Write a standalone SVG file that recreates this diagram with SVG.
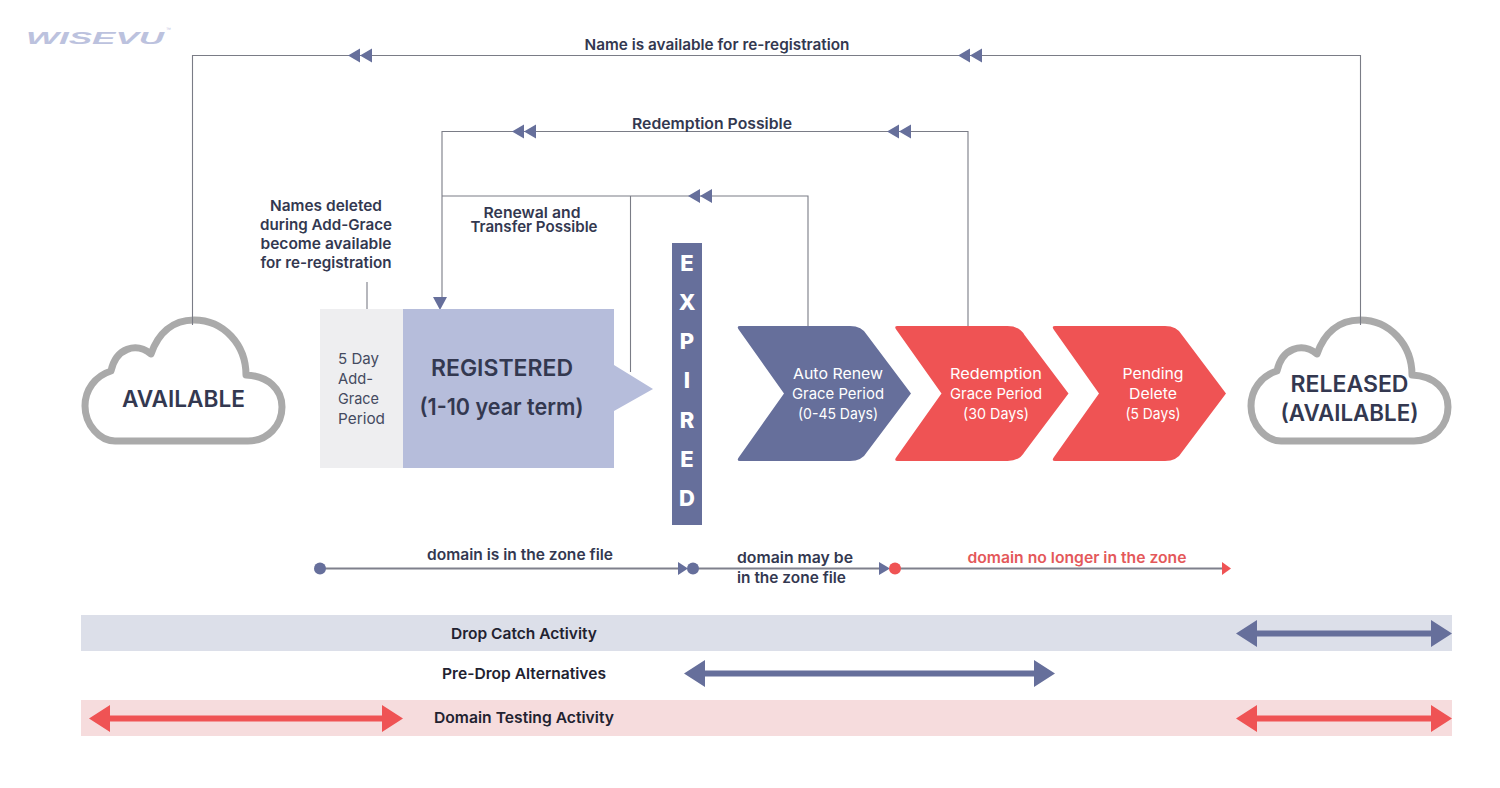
<svg xmlns="http://www.w3.org/2000/svg" xmlns:xlink="http://www.w3.org/1999/xlink" width="1500" height="788" viewBox="0 0 1500 788">
<style>
text{font-family:Inter,"Open Sans","Liberation Sans",sans-serif}
.c{text-anchor:middle}
.b{font-weight:600;font-size:15px;fill:#333850}
.k{font-weight:600;font-size:15px;fill:#222230}
.big{font-weight:600;font-size:22.5px;fill:#333850}
.w{font-weight:400;font-size:15px;fill:#fff}
.e{font-weight:800;font-size:22px;fill:#fff}
.g{font-weight:400;font-size:15px;fill:#444a60}
.l{fill:none;stroke:#7a7c86;stroke-width:1.1}
.cloud{fill:#fff;stroke:#aaa;stroke-width:7;stroke-linejoin:round}
.blue{fill:#666f9b}.red{fill:#ef5354}
.tl{stroke:#7f808c;stroke-width:2.2}
</style>
<defs>
<path id="dbl" class="blue" d="M0 0L12 -7V7ZM12 0L24 -7V7Z"/>
<path id="cl" d="M115 441H248C268 441 282 425 282 407C282 389 268 376 246 375C246 345 224 320 194 320C172 320 158 334 151 354C136 342 116 348 111 371C95 376 85 390 85 406C85 425 100 441 115 441Z"/>
<path id="chev" d="M2 0H112Q124 0 129 9L173 67.500L129 126Q124 135 112 135H2Q-2 135 1 131L46 67.500L1 4Q-2 0 2 0Z"/>
</defs>
<rect width="1500" height="788" fill="#fff"/>
<g id="logo">
<text x="26" y="44" font-size="17" font-weight="700" font-style="italic" fill="#bcc2de" textLength="138" lengthAdjust="spacingAndGlyphs" style="font-family:'Liberation Sans',sans-serif">WISEVU</text>
<text x="166" y="31" font-size="5" fill="#bcc2de" style="font-family:'Liberation Sans',sans-serif">™</text>
</g>
<g id="bars">
<rect x="81" y="615" width="1371" height="36" fill="#dcdfe9"/>
<rect x="81" y="700" width="1371" height="36" fill="#f6dcdd"/>
</g>
<g id="available"><use xlink:href="#cl" href="#cl" class="cloud"/><text class="big c" x="183.500" y="407" textLength="123" lengthAdjust="spacingAndGlyphs">AVAILABLE</text></g>
<g id="released"><use xlink:href="#cl" href="#cl" x="1166" class="cloud"/>
<text class="big c" x="1349.500" y="392" textLength="118" lengthAdjust="spacingAndGlyphs">RELEASED</text><text class="big c" x="1349.500" y="421" textLength="138" lengthAdjust="spacingAndGlyphs">(AVAILABLE)</text></g>
<g id="connectors">
<path class="l" d="M192.500 325V55.500H1360.500V325"/>
<path class="l" d="M968 326V131.500H442V298"/>
<path class="l" d="M808 326V196H442"/>
<path class="l" d="M630.500 196V372"/>
<path class="l" d="M367 282V325"/>
<use href="#dbl" x="348" y="55.500"/><use href="#dbl" x="958" y="55.500"/>
<use href="#dbl" x="512" y="131.500"/><use href="#dbl" x="887" y="131.500"/>
<use href="#dbl" x="688" y="196"/>
<path class="blue" d="M433 297H447L440 310Z"/>
</g>
<g id="add-grace"><rect x="320" y="309" width="83" height="159" fill="#eeeef0"/>
<text class="g" x="338" y="364" textLength="41" lengthAdjust="spacingAndGlyphs">5 Day</text><text class="g" x="338" y="384" textLength="35" lengthAdjust="spacingAndGlyphs">Add-</text><text class="g" x="338" y="404" textLength="41" lengthAdjust="spacingAndGlyphs">Grace</text><text class="g" x="338" y="424" textLength="47" lengthAdjust="spacingAndGlyphs">Period</text></g>
<g id="registered"><path fill="#b6bddb" d="M403 309H614V365L653 389L614 411V468H403Z"/>
<text class="big c" x="502" y="376" textLength="142" lengthAdjust="spacingAndGlyphs">REGISTERED</text><text class="big c" x="501.500" y="415" textLength="164" lengthAdjust="spacingAndGlyphs">(1-10 year term)</text></g>
<g id="expired"><rect class="blue" x="672" y="243" width="30" height="282"/>
<text class="e c" x="687" y="271">E</text><text class="e c" x="687" y="310">X</text><text class="e c" x="687" y="349">P</text><text class="e c" x="687" y="388">I</text><text class="e c" x="687" y="428">R</text><text class="e c" x="687" y="467">E</text><text class="e c" x="687" y="506">D</text></g>
<g id="auto-renew"><use href="#chev" x="738" y="326" class="blue"/>
<text class="w c" x="838" y="379" textLength="90" lengthAdjust="spacingAndGlyphs">Auto Renew</text><text class="w c" x="838" y="399" textLength="92" lengthAdjust="spacingAndGlyphs">Grace Period</text><text class="w c" x="838" y="419" textLength="80" lengthAdjust="spacingAndGlyphs">(0-45 Days)</text></g>
<g id="redemption"><use href="#chev" x="895.500" y="326" class="red"/>
<text class="w c" x="996" y="379" textLength="92" lengthAdjust="spacingAndGlyphs">Redemption</text><text class="w c" x="996" y="399" textLength="92" lengthAdjust="spacingAndGlyphs">Grace Period</text><text class="w c" x="996" y="419" textLength="66" lengthAdjust="spacingAndGlyphs">(30 Days)</text></g>
<g id="pending"><use href="#chev" x="1053" y="326" class="red"/>
<text class="w c" x="1153" y="379" textLength="61" lengthAdjust="spacingAndGlyphs">Pending</text><text class="w c" x="1153" y="399" textLength="48" lengthAdjust="spacingAndGlyphs">Delete</text><text class="w c" x="1153" y="419" textLength="55" lengthAdjust="spacingAndGlyphs">(5 Days)</text></g>
<g id="labels">
<text class="b c" x="717" y="50" textLength="265" lengthAdjust="spacingAndGlyphs">Name is available for re-registration</text>
<text class="b c" x="712" y="129" textLength="160" lengthAdjust="spacingAndGlyphs">Redemption Possible</text>
<text class="b c" x="532" y="218" textLength="97" lengthAdjust="spacingAndGlyphs">Renewal and</text>
<text class="b c" x="534" y="232" textLength="127" lengthAdjust="spacingAndGlyphs">Transfer Possible</text>
<text class="b c" x="326" y="211" textLength="112" lengthAdjust="spacingAndGlyphs">Names deleted</text>
<text class="b c" x="326" y="230" textLength="132" lengthAdjust="spacingAndGlyphs">during Add-Grace</text>
<text class="b c" x="326" y="249" textLength="131" lengthAdjust="spacingAndGlyphs">become available</text>
<text class="b c" x="326" y="268" textLength="131" lengthAdjust="spacingAndGlyphs">for re-registration</text>
</g>
<g id="timeline">
<path class="tl" d="M320 568.500H680M693 568.500H881M895 568.500H1223"/>
<circle class="blue" cx="320" cy="568.500" r="6"/><path class="blue" d="M678 562L688 568.500L678 575Z"/>
<circle class="blue" cx="693" cy="568.500" r="6"/><path class="blue" d="M879 562L890 568.500L879 575Z"/>
<circle class="red" cx="895" cy="568.500" r="6"/><path class="red" d="M1222 562L1231 568.500L1222 575Z"/>
<text class="b c" x="520" y="560" textLength="186" lengthAdjust="spacingAndGlyphs">domain is in the zone file</text>
<text class="b" x="737" y="563" textLength="116" lengthAdjust="spacingAndGlyphs">domain may be</text>
<text class="b" x="737" y="583" textLength="109" lengthAdjust="spacingAndGlyphs">in the zone file</text>
<text class="b c" x="1077" y="563" textLength="219" lengthAdjust="spacingAndGlyphs" style="fill:#e4585a">domain no longer in the zone</text>
</g>
<g id="activity">
<text class="k c" x="524" y="639" textLength="146" lengthAdjust="spacingAndGlyphs">Drop Catch Activity</text>
<text class="k c" x="524" y="679" textLength="164" lengthAdjust="spacingAndGlyphs">Pre-Drop Alternatives</text>
<text class="k c" x="524" y="723" textLength="180" lengthAdjust="spacingAndGlyphs">Domain Testing Activity</text>
<path class="blue" d="M1236 633.500L1257 620V630.500H1431V620L1452 633.500L1431 647V636.500H1257V647Z"/>
<path class="blue" d="M684 673.500L705 660V670.500H1034V660L1055 673.500L1034 687V676.500H705V687Z"/>
<path class="red" d="M89 718.500L110 705V715.500H382V705L403 718.500L382 732V721.500H110V732Z"/>
<path class="red" d="M1236 718.500L1257 705V715.500H1431V705L1452 718.500L1431 732V721.500H1257V732Z"/>
</g>
</svg>
